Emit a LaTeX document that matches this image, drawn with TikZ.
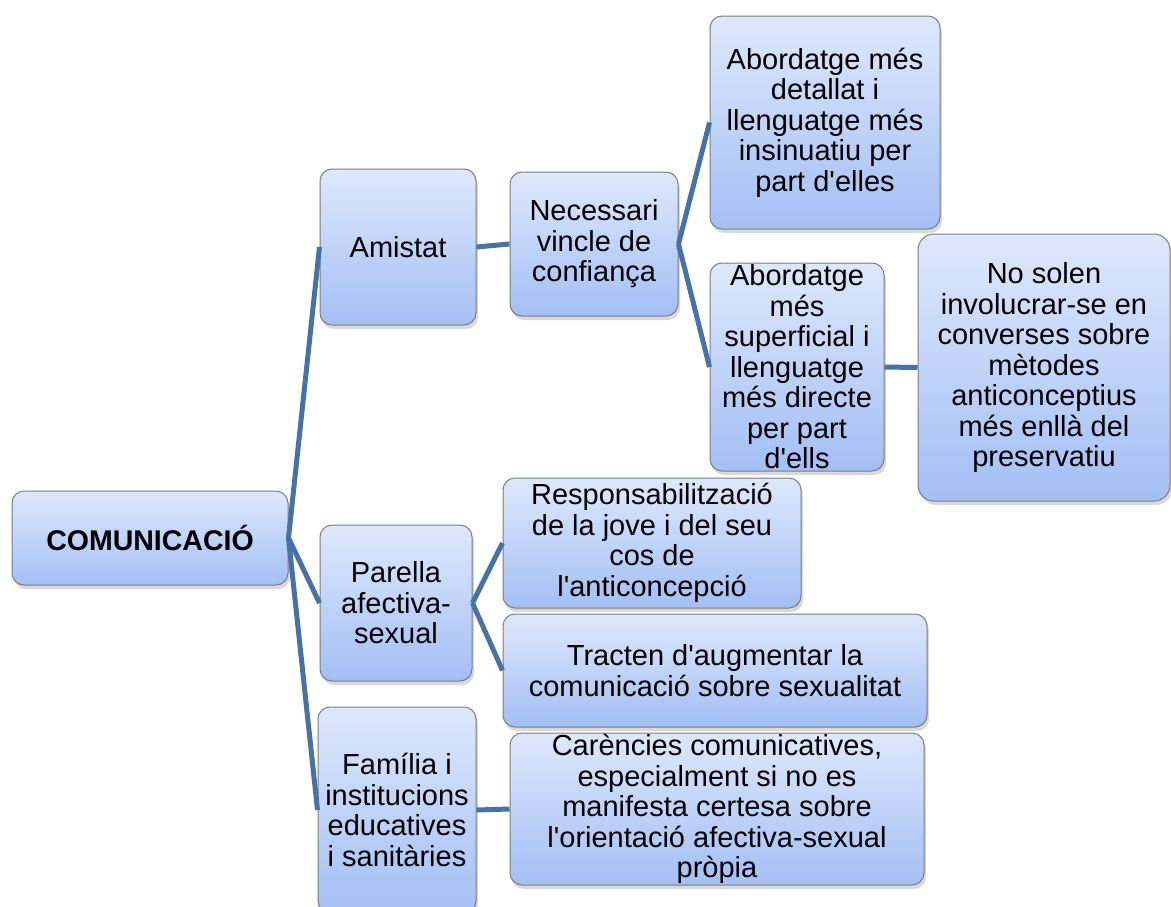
\documentclass[tikz,border=0pt]{standalone}
\usepackage{fontspec}
\newfontfamily\boxfont{Liberation Sans}
\usetikzlibrary{shadows}
\definecolor{boxtop}{RGB}{222,232,252}
\definecolor{boxbot}{RGB}{163,191,245}
\definecolor{boxline}{RGB}{125,125,125}
\definecolor{linkblue}{RGB}{70,114,166}
\tikzset{
    box/.style 2 args = {
        draw=boxline, line width=1pt, rounded corners=12pt,
        top color=boxtop, bottom color=boxbot,
        minimum width=#1, minimum height=#2, inner sep=0pt, align=center,
        font=\boxfont\fontsize{29}{30.5}\selectfont,
        drop shadow={shadow xshift=2pt, shadow yshift=-4pt, opacity=0.3}
    },
    link/.style = {draw=linkblue, line width=5pt}
}

\begin{document}
\begin{tikzpicture}[x=1pt,y=-1pt]
    \clip (0,0) rectangle (1171,906);

    \node[box={276pt}{94pt}, font=\boxfont\bfseries\fontsize{28.5}{30}\selectfont] (com) at (150,538) {COMUNICACIÓ};

    \node[box={156pt}{156pt}] (ami) at (398,247) {Amistat};
    \node[box={168pt}{144pt}] (nec) at (594,244) {Necessari\\vincle de\\confiança};
    \node[box={230pt}{213pt}] (det) at (825,122.5) {Abordatge més\\detallat i\\llenguatge més\\insinuatiu per\\part d'elles};
    \node[box={174pt}{208pt}] (sup) at (797,367) {Abordatge\\més\\superficial i\\llenguatge\\més directe\\per part\\d'ells};
    \node[box={252pt}{267pt}, rounded corners=16pt] (sol) at (1044,367.5) {No solen\\involucrar-se en\\converses sobre\\mètodes\\anticonceptius\\més enllà del\\preservatiu};

    \node[box={152pt}{156pt}] (par) at (396,603) {Parella\\afectiva-\\sexual};
    \node[box={298pt}{130pt}] (res) at (652,543) {Responsabilització\\de la jove i del seu\\cos de\\l'anticoncepció};
    \node[box={424pt}{113pt}] (tra) at (715,670.5) {Tracten d'augmentar la\\comunicació sobre sexualitat};

    \node[box={158pt}{206pt}] (fam) at (397,810) {Família i\\institucions\\educatives\\i sanitàries};
    \node[box={414pt}{152pt}] (car) at (717,809) {Carències comunicatives,\\especialment si no es\\manifesta certesa sobre\\l'orientació afectiva-sexual\\pròpia};

    % connectors
    \draw[link] (com.east) -- (ami.west);
    \draw[link] (com.east) -- (par.west);
    \draw[link] (com.east) -- (fam.west);
    \draw[link] (ami.east) -- (nec.west);
    \draw[link] (nec.east) -- (det.west);
    \draw[link] (nec.east) -- (sup.west);
    \draw[link] (sup.east) -- (sol.west);
    \draw[link] (par.east) -- (res.west);
    \draw[link] (par.east) -- (tra.west);
    \draw[link] (fam.east) -- (car.west);
\end{tikzpicture}
\end{document}
